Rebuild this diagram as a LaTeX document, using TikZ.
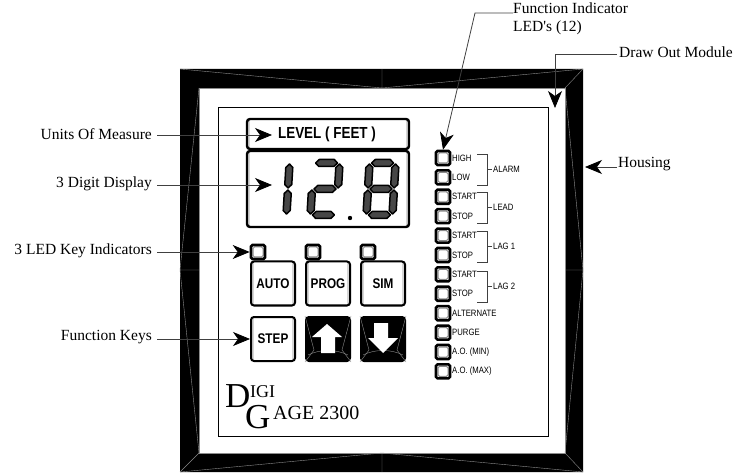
\documentclass[tikz,border=0pt]{standalone}
\usepackage{xcolor}
\usepackage{fontspec}
\usepackage{tikz}
\usetikzlibrary{arrows.meta,positioning,calc}
\setmainfont{Liberation Serif}
\setsansfont[FakeStretch=0.84]{Liberation Sans}
\definecolor{MitreGray}{HTML}{8C8C8C}
\definecolor{LeadGray}{HTML}{404040}
\tikzset{
  lead/.style={-{Stealth[length=17pt,width=14pt,inset=5pt,black]},draw=LeadGray,line width=0.8pt},
  callout/.style={font=\fontsize{15.5}{18}\selectfont,inner sep=0pt,inner xsep=5pt,align=left},
  insetline/.style={path picture={\draw[MitreGray,line width=0.8pt] ($(path picture bounding box.north west)+(2,-2)$) rectangle ($(path picture bounding box.south east)+(-2,2)$);}},
  dispbox/.style={rectangle,rounded corners=3pt,draw,line width=2.4pt,minimum width=162pt,insetline},
  keybox/.style={rectangle,rounded corners=3pt,draw,line width=2pt,minimum size=44pt,inner sep=0pt,
                 font=\fontsize{14}{16}\selectfont\sffamily\bfseries},
  plainkey/.style={keybox,insetline},
  arrowkey/.style={keybox,fill=black},
  led/.style={rectangle,rounded corners=1.5pt,draw,line width=2.6pt,minimum size=14pt,inner sep=0pt,
              path picture={\draw[MitreGray,line width=1pt] ($(path picture bounding box.center)+(-5,-5)$) rectangle ($(path picture bounding box.center)+(5,5)$);}},
  tinylbl/.style={font=\fontsize{9.2}{10}\selectfont\sffamily,inner sep=0pt,inner xsep=1pt},
  brk/.style={line width=0.7pt,draw=LeadGray},
  mitre/.style={line width=0.4pt,draw=MitreGray},
  seg/.style={draw=black,line width=1.5pt,fill=black!72,line join=round},
  brand/.style={inner sep=0pt,anchor=base west}
}
\newcommand{\SegH}[3]{\draw[seg] (#1,#3)--({#1+3.5},{#3-3.5})--({#2-3.5},{#3-3.5})--(#2,#3)--({#2-3.5},{#3+3.5})--({#1+3.5},{#3+3.5})--cycle;}
\newcommand{\SegV}[3]{\draw[seg] (#1,#2)--({#1+3.5},{#2+3.5})--({#1+3.5},{#3-3.5})--(#1,#3)--({#1-3.5},{#3-3.5})--({#1-3.5},{#2+3.5})--cycle;}
\begin{document}
\begin{tikzpicture}[x=1pt,y=-1pt]
  \useasboundingbox (0,0) rectangle (734,473);

  % housing
  \fill[black,even odd rule] (180,69) rectangle (583,472) (199,88) rectangle (565,453);
  \draw[mitre] (199,88) rectangle (565,453);
  \draw[mitre] (180,69)--(382,88)--(583,69) (382,69)--(382,88);
  \draw[mitre] (199,88)--(180,270)--(199,453) (180,270)--(199,270);
  \draw[mitre] (565,88)--(583,270)--(565,453) (565,270)--(583,270);
  \draw[mitre] (180,472)--(382,453)--(583,472) (382,453)--(382,472);
  \draw[mitre] (583,69)--(565,88) (180,472)--(199,453) (583,472)--(565,453);

  % draw out module
  \node[rectangle,draw,line width=0.8pt,minimum width=330pt,minimum height=329pt,inner sep=0pt] (panel) at (383,271.5) {};

  % display
  \node[dispbox,minimum height=30pt,font=\fontsize{16}{18}\selectfont\sffamily\bfseries] (units) at (328,134) {\hspace*{-2pt}LEVEL ( FEET )};
  \node[dispbox,minimum height=76pt] (digits) at (328,189) {};
  \fill (350,218) circle (2.2pt);
  \begin{scope}[shift={(288,189)},xslant=0.06]
    \SegV{0}{-25}{-1}
    \SegV{0}{1}{25}
  \end{scope}
  \begin{scope}[shift={(325,189)},xslant=0.06]
    \SegH{-11}{11}{-26}
    \SegH{-11}{11}{0}
    \SegH{-11}{11}{26}
    \SegV{13}{-25}{-1}
    \SegV{-13}{1}{25}
  \end{scope}
  \begin{scope}[shift={(381,189)},xslant=0.06]
    \SegH{-11}{11}{-26}
    \SegH{-11}{11}{0}
    \SegH{-11}{11}{26}
    \SegV{13}{-25}{-1}
    \SegV{13}{1}{25}
    \SegV{-13}{-25}{-1}
    \SegV{-13}{1}{25}
  \end{scope}

  % keys
  \node[plainkey] (auto) at (273,283.5) {AUTO};
  \node[plainkey] (prog) at (328,283.5) {PROG};
  \node[plainkey] (sim) at (383,283.5) {SIM};
  \node[plainkey] (stepkey) at (273,339) {STEP};
  \node[arrowkey] (upkey) at (328,339) {};
  \node[arrowkey] (downkey) at (383,339) {};
  \foreach \k in {auto,prog,sim}
    \node[led] (\k led) at ($(\k.north west)+(8,-8.5)$) {};

  \draw[mitre] (upkey.north west)--(314,350) (upkey.north east)--(342,350) (upkey.south west)--(314,350) (upkey.south east)--(342,350);
  \draw[mitre] (308,355) .. controls (320,349) and (336,349) .. (348,355);
  \fill[white] (327,324)--(342,337)--(335,337)--(335,353)--(321,353)--(321,337)--(312,337)--cycle;
  \draw[mitre] (downkey.north west)--(369,350) (downkey.north east)--(397,350) (downkey.south west)--(369,350) (downkey.south east)--(397,350);
  \draw[mitre] (363,355) .. controls (375,349) and (391,349) .. (403,355);
  \fill[white] (374,323)--(388,323)--(388,338)--(398,338)--(383,353)--(368,338)--(374,338)--cycle;

  % function LEDs
  \foreach \i/\txt in {0/HIGH,1/LOW,2/START,3/STOP,4/START,5/STOP,6/START,7/STOP,8/ALTERNATE,9/PURGE,10/A.O. (MIN),11/A.O. (MAX)}{
    \node[led] (fled\i) at (443,{158+19.4*\i}) {};
    \node[tinylbl,anchor=west] (ftxt\i) at (451,{158+19.4*\i}) {\txt};
  }

  % brackets
  \foreach \t/\b/\m/\n in {154/185/169/ALARM,192/223/207/LEAD,231/262/246/LAG 1,271/302/286/LAG 2}{
    \node[tinylbl,anchor=west] (brk\m) at (492,\m) {\n};
    \draw[brk] (477,\t)--(487,\t)--(487,\b)--(477,\b) (487,\m)--(brk\m.west);
  }

  % brand
  \node[brand,font=\fontsize{35}{35}\selectfont] (brandD) at (225,407) {D};
  \node[brand,font=\fontsize{18}{18}\selectfont] (brandI) at (250,397) {IGI};
  \node[brand,font=\fontsize{35}{35}\selectfont] (brandG) at (245,428) {G};
  \node[brand,font=\fontsize{20}{20}\selectfont] (brandA) at (273,419) {AGE 2300};

  % callouts
  \node[callout,anchor=east] (lblunits) at (157,134) {Units Of Measure};
  \node[callout,anchor=east] (lbldisp) at (157,184) {3 Digit Display};
  \node[callout,anchor=east] (lblled) at (157,251) {3 LED Key Indicators};
  \node[callout,anchor=east] (lblfunc) at (157,337) {Function Keys};
  \node[callout,anchor=west] (lblhouse) at (613,164) {Housing};
  \node[callout,anchor=west] (lbldraw) at (614,52) {Draw Out Module};
  \node[callout,anchor=north west] (lblfled) at (508,3) {Function Indicator\\LED\textquotesingle s (12)};

  \coordinate (tipunits) at (272,135);
  \coordinate (tipdisp) at (272,185);
  \coordinate (tiphouse) at (585,167);
  \coordinate (tipdraw) at (555,108);
  \coordinate (benddraw) at (555,54);
  \coordinate (bendfled) at (475,13);
  \coordinate (startfled) at (513,13);

  \draw[lead] (lblunits.east)++(0,1) -- (tipunits);
  \draw[lead] (lbldisp.east)++(0,1) -- (tipdisp);
  \draw[lead] (lblled.east)++(0,1) -- (autoled.west);
  \draw[lead] (lblfunc.east)++(0,2) -- (stepkey.west);
  \draw[lead] (lblhouse.west)++(4,3) -- (tiphouse);
  \draw[lead] (lbldraw.west)++(3,2) -- (benddraw) -- (tipdraw);
  \draw[lead] (startfled) -- (bendfled) -- (fled0.north);
\end{tikzpicture}
\end{document}
